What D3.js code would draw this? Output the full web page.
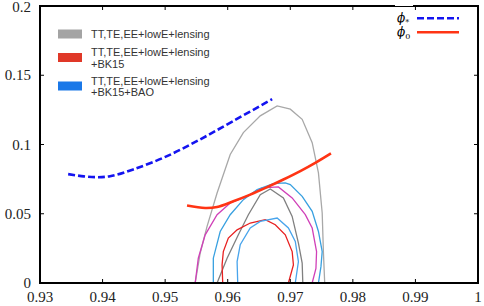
<!DOCTYPE html>
<html>
<head>
<meta charset="utf-8">
<script src="https://cdn.jsdelivr.net/npm/d3@7"></script>
<style>
  body { margin: 0; background: #fff; }
  .tick-label { font-family: "Liberation Serif", "DejaVu Serif", serif; font-size: 15px; fill: #222; }
  .leg { font-family: "Liberation Sans", "DejaVu Sans", sans-serif; font-size: 11px; fill: #333; }
</style>
</head>
<body>
<div id="chart"></div>
<script>
// tick values
var xTicks = [0.93, 0.94, 0.95, 0.96, 0.97, 0.98, 0.99, 1]
var xTickLabels = ['0.93', '0.94', '0.95', '0.96', '0.97', '0.98', '0.99', '1']
var yTicks = [0, 0.05, 0.1, 0.15, 0.2]
var yTickLabels = ['0', '0.05', '0.1', '0.15', '0.2']

// model curves (ns, r)
var phiStar = [
  [0.9345, 0.0786], [0.9370, 0.0770], [0.9391, 0.0764], [0.9412, 0.0771],
  [0.9449, 0.0820], [0.9503, 0.0916], [0.9556, 0.1037], [0.9609, 0.1170],
  [0.9671, 0.1327]
]
var phiZero = [
  [0.9535, 0.0559], [0.9564, 0.0542], [0.9583, 0.0549], [0.9609, 0.0590],
  [0.9636, 0.0638], [0.9663, 0.0692], [0.9689, 0.0747], [0.9716, 0.0808],
  [0.9742, 0.0873], [0.9765, 0.0936]
]

// Planck contours (ns, r)
var grayOuter = [
  [0.9548, 0], [0.9556, 0.0215], [0.9567, 0.0409], [0.9583, 0.0650], [0.9604, 0.0928],
  [0.9625, 0.1086], [0.9652, 0.1207], [0.9679, 0.1279], [0.9700, 0.1255], [0.9719, 0.1182],
  [0.9735, 0.1013], [0.9745, 0.0795], [0.9751, 0.0505], [0.9753, 0.0215], [0.9755, 0]
]
var grayInner = [
  [0.9583, 0], [0.9599, 0.0179], [0.9617, 0.0348], [0.9633, 0.0493], [0.9652, 0.0638],
  [0.9668, 0.0679], [0.9689, 0.0614], [0.9703, 0.0481], [0.9713, 0.0288], [0.9719, 0.0143],
  [0.9720, 0]
]
var magentaOuter = [
  [0.9548, 0], [0.9553, 0.0179], [0.9564, 0.0348], [0.9583, 0.0493], [0.9604, 0.0578],
  [0.9631, 0.0626], [0.9655, 0.0687], [0.9681, 0.0694], [0.9703, 0.0614], [0.9724, 0.0493],
  [0.9735, 0.0397], [0.9742, 0.0227], [0.9741, 0.0106], [0.9735, 0]
]
var redInner = [
  [0.9592, 0], [0.9591, 0.0131], [0.9593, 0.0227], [0.9601, 0.0324], [0.9615, 0.0384],
  [0.9636, 0.0433], [0.9660, 0.0457], [0.9676, 0.0421], [0.9692, 0.0348], [0.9703, 0.0227],
  [0.9705, 0.0131], [0.9697, 0]
]
var blueOuter = [
  [0.9577, 0], [0.9577, 0.0179], [0.9588, 0.0372], [0.9604, 0.0493], [0.9625, 0.0602],
  [0.9647, 0.0675], [0.9673, 0.0718], [0.9692, 0.0723], [0.9700, 0.0711], [0.9719, 0.0626],
  [0.9735, 0.0517], [0.9745, 0.0372], [0.9751, 0.0227], [0.9749, 0.0118], [0.9745, 0]
]
var blueInner = [
  [0.9616, 0], [0.9615, 0.0155], [0.9620, 0.0276], [0.9636, 0.0397], [0.9652, 0.0445],
  [0.9679, 0.0469], [0.9697, 0.0397], [0.9708, 0.0300], [0.9713, 0.0155], [0.9708, 0]
]

var legendLabels = [
  ['TT,TE,EE+lowE+lensing'],
  ['TT,TE,EE+lowE+lensing', '+BK15'],
  ['TT,TE,EE+lowE+lensing', '+BK15+BAO']
]
var legendColors = ['#a4a4a4', '#e03828', '#1a78e8']

var W = 484, H = 306
var margin = {left: 40, right: 6, top: 6, bottom: 23}

var svg = d3.select('#chart').append('svg').attr('width', W).attr('height', H)

var x = d3.scaleLinear().domain([0.93, 1]).range([margin.left, W - margin.right])
var y = d3.scaleLinear().domain([0, 0.2]).range([H - margin.bottom, margin.top])

var line = d3.line().x(d => x(d[0])).y(d => y(d[1]))
var smooth = d3.line().x(d => x(d[0])).y(d => y(d[1])).curve(d3.curveCatmullRom)

svg.append('clipPath').attr('id', 'clip').append('rect')
  .attr('x', x(0.93)).attr('y', y(0.2)).attr('width', x(1) - x(0.93)).attr('height', y(0) - y(0.2))

var plot = svg.append('g').attr('clip-path', 'url(#clip)')

var contours = [
  [grayOuter, '#a8a8a8'],
  [grayInner, '#808080'],
  [magentaOuter, '#d040b8'],
  [blueOuter, '#38a0e0'],
  [redInner, '#e82020'],
  [blueInner, '#48a4ec']
]
contours.forEach(function(c){
  plot.append('path').attr('d', line(c[0]))
    .attr('fill', 'none').attr('stroke', c[1]).attr('stroke-width', 1.3)
})

plot.append('path').attr('d', smooth(phiStar))
  .attr('fill', 'none').attr('stroke', '#1414f0').attr('stroke-width', 2.6)
  .attr('stroke-dasharray', '7,3')
plot.append('path').attr('d', smooth(phiZero))
  .attr('fill', 'none').attr('stroke', '#ff3414').attr('stroke-width', 2.6)

// ticks, inward on all sides
var tickLen = 4
var ax = svg.append('g').attr('stroke', '#000').attr('stroke-width', 1)
xTicks.forEach(function(t){
  ax.append('line').attr('x1', x(t)).attr('x2', x(t)).attr('y1', y(0)).attr('y2', y(0) - tickLen)
  ax.append('line').attr('x1', x(t)).attr('x2', x(t)).attr('y1', y(0.2)).attr('y2', y(0.2) + tickLen)
})
yTicks.forEach(function(t){
  ax.append('line').attr('x1', x(0.93)).attr('x2', x(0.93) + tickLen).attr('y1', y(t)).attr('y2', y(t))
  ax.append('line').attr('x1', x(1)).attr('x2', x(1) - tickLen).attr('y1', y(t)).attr('y2', y(t))
})

// frame
svg.append('rect')
  .attr('x', x(0.93)).attr('y', y(0.2)).attr('width', x(1) - x(0.93)).attr('height', y(0) - y(0.2))
  .attr('fill', 'none').attr('stroke', '#000').attr('stroke-width', 2)
// legend box edge thins the top border
svg.append('rect').attr('x', 395).attr('y', y(0.2) - 1).attr('width', 18).attr('height', 1).attr('fill', '#fff')

xTicks.forEach(function(t, i){
  svg.append('text').attr('class', 'tick-label')
    .attr('x', x(t)).attr('y', y(0) + 19).attr('text-anchor', 'middle')
    .text(xTickLabels[i])
})
yTicks.forEach(function(t, i){
  svg.append('text').attr('class', 'tick-label')
    .attr('x', x(0.93) - 9).attr('y', Math.max(y(t) + 5, 12)).attr('text-anchor', 'end')
    .text(yTickLabels[i])
})

// contour legend
var legY = [34, 57.5, 86]
legendLabels.forEach(function(lines, i){
  svg.append('rect').attr('x', 58).attr('y', legY[i] - 4.5).attr('width', 24).attr('height', 9)
    .attr('fill', legendColors[i])
  var t0 = lines.length == 1 ? legY[i] + 4 : legY[i] - 1.5
  lines.forEach(function(s, j){
    svg.append('text').attr('class', 'leg').attr('x', 91).attr('y', t0 + j * 11.5).text(s)
  })
})

// model legend
var modelLeg = [['*', '#1414f0', '7,3', 18.3], ['0', '#ff3414', null, 32.3]]
modelLeg.forEach(function(m){
  var tx = svg.append('text').attr('x', 397).attr('y', m[3] + 4)
    .style('font-family', '"DejaVu Serif", serif').style('font-style', 'italic').style('font-size', '12px')
    .attr('fill', '#000')
  tx.append('tspan').text('\u03d5')
  tx.append('tspan').attr('dy', 3).style('font-size', '8px').style('font-style', 'normal').text(m[0])
  var l = svg.append('line').attr('x1', 417).attr('x2', 459).attr('y1', m[3]).attr('y2', m[3])
    .attr('stroke', m[1]).attr('stroke-width', 2.6)
  if (m[2]) l.attr('stroke-dasharray', m[2])
})
</script>
</body>
</html>
